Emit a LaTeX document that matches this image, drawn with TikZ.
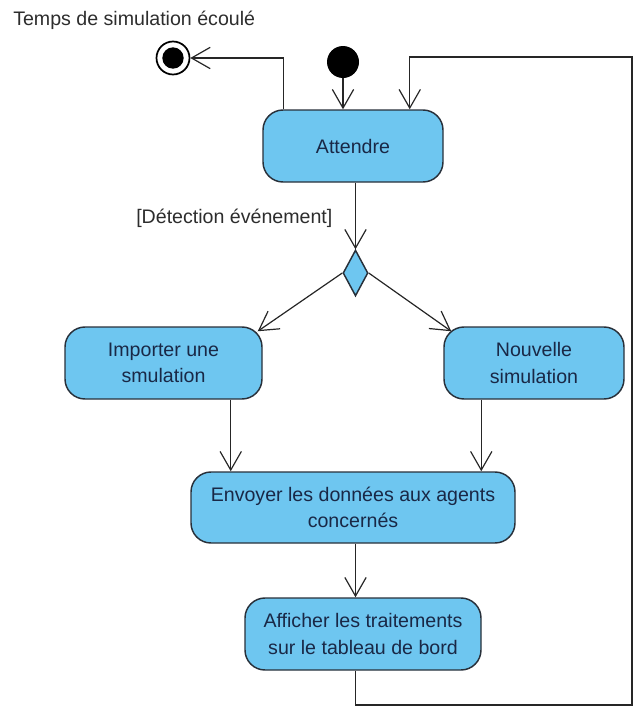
\documentclass[tikz,border=0pt]{standalone}
\usepackage{fontspec}
\setmainfont{Liberation Sans}
\usetikzlibrary{arrows.meta,shapes.geometric,calc}
\definecolor{actfill}{RGB}{110,198,240}
\definecolor{actline}{RGB}{40,48,58}
\definecolor{acttext}{RGB}{25,40,70}
\definecolor{lbltext}{RGB}{45,45,45}
\begin{document}
\begin{tikzpicture}[x=0.75pt,y=-0.75pt,
  action/.style={draw=actline, fill=actfill, line width=1.1pt, rounded corners=15pt,
    align=center, text=acttext, font=\fontsize{14.7}{20}\selectfont, inner sep=0pt},
  flow/.style={draw=black!85, line width=0.9pt,
    -{Straight Barb[length=14pt,width=16pt,line width=0.9pt]}},
  plainline/.style={draw=black!85, line width=0.9pt},
  lbl/.style={text=lbltext, font=\fontsize{14.7}{18}\selectfont, inner sep=0pt}
]
\useasboundingbox (0,0) rectangle (634,707);

% labels
\node[lbl, anchor=base west] (tlbl) at (13,25) {Temps de simulation écoulé};
\node[lbl, anchor=base west] (glbl) at (136,223) {[Détection événement]};

% initial and final nodes
\node[circle, fill=black, minimum size=24pt, inner sep=0pt] (ini) at (343,62) {};
\node[circle, draw=black, fill=white, line width=1.3pt, minimum size=24.75pt, inner sep=0pt] (fin) at (173,58) {};
\node[circle, fill=black, minimum size=16pt, inner sep=0pt] (finin) at (fin) {};

% actions
\node[action, minimum width=135pt, minimum height=54pt] (att) at (353,146) {Attendre};
\node[action, minimum width=147.75pt, minimum height=54pt] (imp) at (163.5,363) {Importer une\\smulation};
\node[action, minimum width=135pt, minimum height=54pt] (nou) at (534,363) {Nouvelle\\simulation};
\node[action, minimum width=243pt, minimum height=53.25pt] (env) at (353,507.5) {Envoyer les données aux agents\\concernés};
\node[action, minimum width=177pt, minimum height=54pt] (aff) at (363,634) {Afficher les traitements\\sur le tableau de bord};

% decision
\node[diamond, draw=actline, fill=actfill, line width=1.1pt, minimum width=18.75pt,
  minimum height=34.5pt, inner sep=0pt] (dec) at (355.5,273) {};

% helper coordinates
\coordinate (attout) at ($(att.north west)+(21,0)$);
\coordinate (loopin) at ($(att.north east)+(-34,0)$);
\coordinate (impout) at ($(imp.south east)+(-32,0)$);
\coordinate (nouout) at ($(nou.south west)+(38,0)$);
\coordinate (impin) at ($(imp.north east)+(-5,5)$);
\coordinate (nouin) at ($(nou.north west)+(8,5)$);
\coordinate (br) at (632,705);
\coordinate (tr) at (632,57);

% connectors
\draw[flow] (ini) -- (ini |- att.north);
\draw[flow] (attout) |- (fin);
\draw[flow] (att.south -| dec) -- (dec.north);
\draw[flow] (dec.west) -- (impin);
\draw[flow] (dec.east) -- (nouin);
\draw[flow] (impout) -- (impout |- env.north);
\draw[flow] (nouout) -- (nouout |- env.north);
\draw[flow] (env.south -| dec) -- (aff.north -| dec);
\draw[flow] (aff.south -| dec) |- (br) -- (tr) -| (loopin);
\end{tikzpicture}
\end{document}
